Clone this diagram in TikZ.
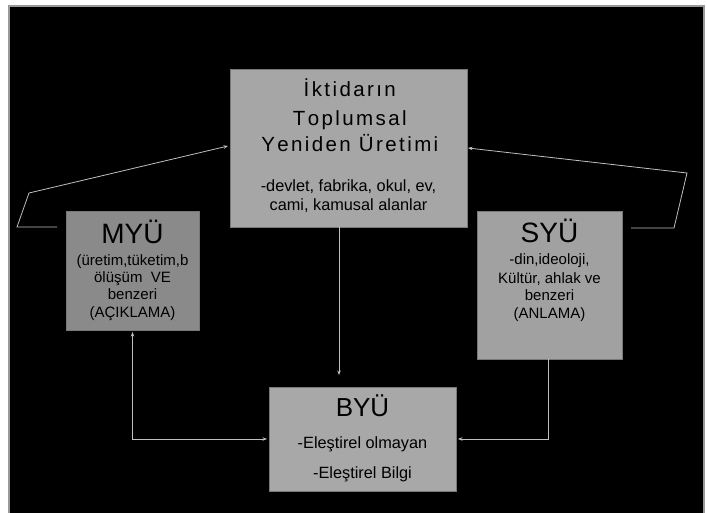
\documentclass[tikz,border=0pt]{standalone}
\usepackage{fontspec}
\newfontfamily\basefont{Liberation Sans}
\makeatletter
\newcommand\trk[2]{\def\trk@k{#1}\trk@loop#2\trk@end}
\def\trk@end{\trk@end}
\def\trk@loop#1{\ifx#1\trk@end\else#1\kern\trk@k\expandafter\trk@loop\fi}
\makeatother
\newcommand\mytitle{\basefont\fontsize{20.5}{20.5}\selectfont}
\newcommand\mysub{\basefont\fontsize{16.3}{16.3}\selectfont}
\newcommand\mysmall{\basefont\fontsize{15}{15}\selectfont}
\newcommand\mybig{\basefont\fontsize{28}{28}\selectfont}
\newcommand\mybyu{\basefont\fontsize{26}{26}\selectfont}
\usetikzlibrary{arrows.meta}
\begin{document}
\begin{tikzpicture}[x=1pt,y=-1pt,
 panel/.style={draw=white!47!black, line width=0.8pt, inner sep=0pt, outer sep=0pt, rectangle},
 txt/.style={anchor=base, text=black},
 tip/.style={-{Stealth[length=4.5pt,width=3.5pt]}},
 wireline/.style={draw=white!75!black, line width=0.8pt}]
\useasboundingbox (0,0) rectangle (707,512);
\node[draw=white!60!black, line width=2pt, fill=black, inner sep=0pt, outer sep=0pt,
  minimum width=695pt, minimum height=510pt] (bg) at (356.5,261) {};

% boxes
\node[panel, fill=white!65!black, minimum width=237pt, minimum height=158pt] (top) at (348.5,148) {};
\node[panel, fill=white!54!black, minimum width=133pt, minimum height=119pt] (myu) at (132.5,270.5) {};
\node[panel, fill=white!63!black, minimum width=145pt, minimum height=148pt] (syu) at (549.5,285) {};
\node[panel, fill=white!66!black, minimum width=187pt, minimum height=104pt] (byu) at (362.5,439) {};

% top texts
\node[txt] (t1) at (351,96.7) {\mytitle\trk{2.4pt}{İktidarın}};
\node[txt] (t2) at (351,125) {\mytitle\trk{2.4pt}{Toplumsal}};
\node[txt] (t3) at (351,151.7) {\mytitle\trk{2.4pt}{Yeniden}\ \trk{2.4pt}{Üretimi}};
\node[txt] (t4) at (348.5,191.7) {\mysub -devlet, fabrika, okul, ev,};
\node[txt] (t5) at (348.5,210.7) {\mysub cami, kamusal alanlar};

% MYU texts
\node[txt] (m0) at (132.5,243) {\mybig MYÜ};
\node[txt] (m1) at (132.5,265) {\mysmall (üretim,tüketim,b};
\node[txt] (m2) at (132.5,282) {\mysmall ölüşüm\ \ VE};
\node[txt] (m3) at (132.5,299) {\mysmall benzeri};
\node[txt] (m4) at (132.5,317) {\mysmall (AÇIKLAMA)};

% SYU texts
\node[txt] (s0) at (549.5,242.5) {\mybig SYÜ};
\node[txt] (s1) at (549.5,264) {\mysmall -din,ideoloji,};
\node[txt] (s2) at (549.5,283) {\mysmall Kültür, ahlak ve};
\node[txt] (s3) at (549.5,300) {\mysmall benzeri};
\node[txt] (s4) at (549.5,318) {\mysmall (ANLAMA)};

% BYU texts
\node[txt] (b0) at (362.5,416.7) {\mybyu BYÜ};
\node[txt] (b1) at (362.5,448) {\mysub -Eleştirel olmayan};
\node[txt] (b2) at (362.5,478) {\mysub -Eleştirel Bilgi};

% connectors
\draw[wireline, tip] ([xshift=-9.5pt]top.south) -- ([xshift=-23.5pt,yshift=12pt]byu.north);
\draw[wireline, {Stealth[length=4.5pt,width=3.5pt]}-{Stealth[length=4.5pt,width=3.5pt]}] ([xshift=-2pt]byu.west) -| ([yshift=-2pt]myu.south);
\draw[wireline, tip] ([xshift=-1.5pt]syu.south) |- ([xshift=2pt]byu.east);
\coordinate (l1) at (57,227);
\coordinate (l2) at (17,227);
\coordinate (l3) at (29,193);
\draw[wireline, tip] (l1) -- (l2) -- (l3) -- ([xshift=-2pt,yshift=2pt]top.west);
\coordinate (r1) at (631,228);
\coordinate (r2) at (674,228);
\coordinate (r3) at (687,173);
\draw[wireline, tip] (r1) -- (r2) -- (r3) -- ([xshift=1pt]top.east);
\end{tikzpicture}
\end{document}
